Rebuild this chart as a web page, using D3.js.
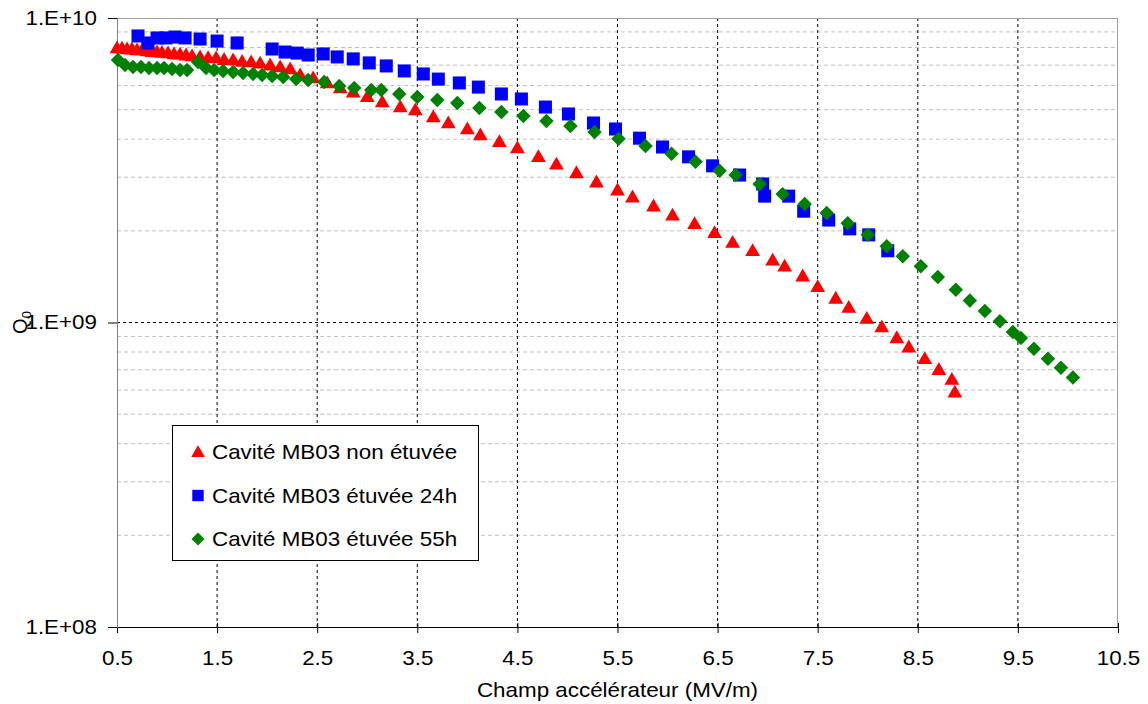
<!DOCTYPE html>
<html><head><meta charset="utf-8">
<script src="https://cdn.jsdelivr.net/npm/d3@7"></script>
<style>
html,body{margin:0;padding:0;background:#fff;}
svg{display:block;font-family:"Liberation Sans",Arial,sans-serif;}
</style></head>
<body><svg id="c" width="1148" height="704"></svg>
<script>
// ---- data ----
const seriesNames = ["Cavité MB03 non étuvée", "Cavité MB03 étuvée 24h", "Cavité MB03 étuvée 55h"];
const xTicks = [0.5,1.5,2.5,3.5,4.5,5.5,6.5,7.5,8.5,9.5,10.5];
const yTicks = [1e8,1e9,1e10];
const yTickLabels = ["1.E+08","1.E+09","1.E+10"];

const redX = [0.50,0.55,0.60,0.65,0.70,0.75,0.80,0.85,0.90,0.95,1.01,1.07,1.13,1.19,1.25,1.33,1.41,1.49,1.57,1.66,1.75,1.84,1.93,2.03,2.13,2.23,2.33,2.46,2.60,2.73,2.86,3.00,3.15,3.33,3.48,3.66,3.81,4.00,4.13,4.32,4.50,4.71,4.89,5.09,5.29,5.50,5.65,5.86,6.05,6.27,6.47,6.65,6.85,7.05,7.17,7.35,7.50,7.68,7.81,7.99,8.14,8.29,8.41,8.57,8.71,8.84,8.87];
const redQ = [7.97e9,7.95e9,7.91e9,7.9e9,7.85e9,7.85e9,7.79e9,7.75e9,7.73e9,7.7e9,7.67e9,7.62e9,7.6e9,7.55e9,7.5e9,7.45e9,7.4e9,7.39e9,7.3e9,7.28e9,7.2e9,7.17e9,7.1e9,7.0e9,6.9e9,6.8e9,6.5e9,6.35e9,6.12e9,5.89e9,5.71e9,5.51e9,5.30e9,5.10e9,4.99e9,4.73e9,4.52e9,4.32e9,4.13e9,3.92e9,3.74e9,3.50e9,3.31e9,3.10e9,2.89e9,2.72e9,2.58e9,2.41e9,2.25e9,2.11e9,1.97e9,1.83e9,1.72e9,1.60e9,1.53e9,1.42e9,1.31e9,1.20e9,1.12e9,1.03e9,9.66e8,8.9e8,8.3e8,7.6e8,7.0e8,6.5e8,5.9e8];

const blueX = [0.71,0.81,0.90,0.99,1.08,1.18,1.33,1.50,1.70,2.05,2.18,2.30,2.41,2.56,2.70,2.86,3.02,3.19,3.37,3.56,3.71,3.92,4.11,4.34,4.54,4.78,5.01,5.26,5.48,5.72,5.95,6.21,6.45,6.72,6.95,6.97,7.21,7.36,7.61,7.82,8.01,8.20];
const blueQ = [8.73e9,8.28e9,8.6e9,8.6e9,8.66e9,8.6e9,8.53e9,8.4e9,8.28e9,7.91e9,7.73e9,7.67e9,7.56e9,7.62e9,7.45e9,7.34e9,7.12e9,6.96e9,6.70e9,6.55e9,6.30e9,6.12e9,5.93e9,5.63e9,5.42e9,5.10e9,4.84e9,4.52e9,4.32e9,4.03e9,3.77e9,3.50e9,3.27e9,3.05e9,2.85e9,2.60e9,2.60e9,2.32e9,2.17e9,2.03e9,1.94e9,1.72e9];

const greenX = [0.51,0.58,0.66,0.74,0.82,0.90,0.97,1.05,1.13,1.20,1.31,1.39,1.47,1.56,1.66,1.76,1.86,1.95,2.05,2.16,2.29,2.41,2.57,2.72,2.87,3.04,3.14,3.32,3.50,3.70,3.90,4.12,4.34,4.56,4.79,5.03,5.27,5.51,5.78,6.04,6.28,6.52,6.68,6.92,7.15,7.37,7.59,7.80,8.00,8.19,8.35,8.53,8.70,8.88,9.02,9.17,9.32,9.45,9.53,9.66,9.80,9.93,10.05];
const greenQ = [7.28e9,7.01e9,6.9e9,6.9e9,6.85e9,6.85e9,6.85e9,6.8e9,6.75e9,6.75e9,7.17e9,6.85e9,6.75e9,6.7e9,6.65e9,6.6e9,6.55e9,6.5e9,6.45e9,6.4e9,6.3e9,6.26e9,6.16e9,5.98e9,5.89e9,5.8e9,5.8e9,5.63e9,5.5e9,5.38e9,5.26e9,5.06e9,4.91e9,4.77e9,4.59e9,4.42e9,4.22e9,4.01e9,3.80e9,3.58e9,3.37e9,3.15e9,3.05e9,2.85e9,2.64e9,2.45e9,2.29e9,2.12e9,1.94e9,1.78e9,1.65e9,1.53e9,1.41e9,1.28e9,1.18e9,1.09e9,1.01e9,9.3e8,8.9e8,8.2e8,7.6e8,7.1e8,6.6e8];

// ---- layout ----
const W = 1148, H = 704;
const m = {left:117, top:18, right:1118, bottom:627};
const FS = 20, SX = 1.12;   // font size and horizontal stretch of the text
const svg = d3.select("#c");
const x = d3.scaleLinear().domain([0.5,10.5]).range([m.left,m.right]);
const y = d3.scaleLog().domain([1e8,1e10]).range([m.bottom,m.top]);

// minor horizontal gridlines
const minorY = [];
[1e8,1e9].forEach(d=>{for(let k=2;k<=9;k++) minorY.push(d*k);});
svg.append("g").selectAll("line").data(minorY).join("line")
  .attr("x1",m.left).attr("x2",m.right)
  .attr("y1",d=>y(d)).attr("y2",d=>y(d))
  .attr("stroke","#c0c0c0").attr("stroke-width",1).attr("stroke-dasharray","4,3");
// major horizontal gridline 1E+09
svg.append("line").attr("x1",m.left).attr("x2",m.right)
  .attr("y1",y(1e9)).attr("y2",y(1e9))
  .attr("stroke","#000").attr("stroke-width",1).attr("stroke-dasharray","3,3");
// vertical gridlines
svg.append("g").selectAll("line").data(xTicks.slice(1,-1)).join("line")
  .attr("x1",d=>x(d)).attr("x2",d=>x(d))
  .attr("y1",m.top).attr("y2",m.bottom)
  .attr("stroke","#000").attr("stroke-width",1).attr("stroke-dasharray","3,3");
// top & right border
svg.append("line").attr("x1",m.left).attr("x2",m.right).attr("y1",m.top+0.5).attr("y2",m.top+0.5).attr("stroke","#a0a0a0");
svg.append("line").attr("x1",m.right-0.5).attr("x2",m.right-0.5).attr("y1",m.top).attr("y2",m.bottom).attr("stroke","#a0a0a0");

// axes
const xAxis = d3.axisBottom(x).tickValues(xTicks).tickFormat(d3.format(".1f")).tickSize(6).tickPadding(18);
const gx = svg.append("g").attr("transform",`translate(0,${m.bottom})`).call(xAxis);
gx.select(".domain").attr("stroke","#000");
gx.selectAll(".tick line").attr("stroke","#000").attr("y1",-4);
gx.selectAll("text").attr("font-size",FS).attr("fill","#000")
  .attr("font-family","Liberation Sans, Arial, sans-serif")
  .attr("transform",`scale(${SX},1)`);

const yAxis = d3.axisLeft(y).tickValues(yTicks).tickFormat((d,i)=>yTickLabels[i]).tickSize(9).tickPadding(10);
const gy = svg.append("g").attr("transform",`translate(${m.left},0)`).call(yAxis);
gy.select(".domain").attr("stroke","#808080");
gy.selectAll(".tick line").attr("stroke","#000");
gy.selectAll("text").attr("font-size",FS).attr("fill","#000")
  .attr("font-family","Liberation Sans, Arial, sans-serif")
  .attr("x",-20/SX).attr("transform",`scale(${SX},1)`);

// axis titles
svg.append("text").attr("transform",`translate(${(m.left+m.right)/2},697) scale(${SX},1)`)
  .attr("text-anchor","middle").attr("font-size",FS).text("Champ accélérateur (MV/m)");
const yt = svg.append("text").attr("transform",`translate(27,${(m.top+m.bottom)/2}) rotate(-90)`)
  .attr("text-anchor","middle").attr("font-size",FS);
yt.append("tspan").text("Q");
yt.append("tspan").attr("font-size",13).attr("dy",4).text("0");

// symbols
const tri = d3.symbol().type(d3.symbolTriangle).size(95);
const sq = d3.symbol().type(d3.symbolSquare).size(170);
const dia = d3.symbol().type(d3.symbolSquare).size(105);

const plot = svg.append("g");
plot.append("g").selectAll("path").data(redX.map((v,i)=>[v,redQ[i]])).join("path")
  .attr("d",tri()).attr("fill","#ff0000")
  .attr("transform",d=>`translate(${x(d[0])},${y(d[1])+1})`);
plot.append("g").selectAll("path").data(blueX.map((v,i)=>[v,blueQ[i]])).join("path")
  .attr("d",sq()).attr("fill","#0000ff")
  .attr("transform",d=>`translate(${x(d[0])},${y(d[1])})`);
plot.append("g").selectAll("path").data(greenX.map((v,i)=>[v,greenQ[i]])).join("path")
  .attr("d",dia()).attr("fill","#008000")
  .attr("transform",d=>`translate(${x(d[0])},${y(d[1])}) rotate(45)`);

// legend
const lg = svg.append("g");
lg.append("rect").attr("x",172.5).attr("y",425.5).attr("width",306).attr("height",135)
  .attr("fill","#fff").attr("stroke","#000").attr("stroke-width",1);
const legRows = [
  {name:seriesNames[0], sym:d3.symbol().type(d3.symbolTriangle).size(80)(), color:"#ff0000", rot:0, dy:1},
  {name:seriesNames[1], sym:d3.symbol().type(d3.symbolSquare).size(130)(), color:"#0000ff", rot:0, dy:0},
  {name:seriesNames[2], sym:d3.symbol().type(d3.symbolSquare).size(85)(), color:"#008000", rot:45, dy:0}
];
legRows.forEach((r,i)=>{
  const cy = 452 + i*43.5;
  lg.append("path").attr("d",r.sym).attr("fill",r.color)
    .attr("transform",`translate(198,${cy+r.dy}) rotate(${r.rot})`);
  lg.append("text").attr("transform",`translate(212,${cy}) scale(${SX},1)`).attr("dy","0.35em")
    .attr("font-size",FS).text(r.name);
});
</script>
</body></html>
